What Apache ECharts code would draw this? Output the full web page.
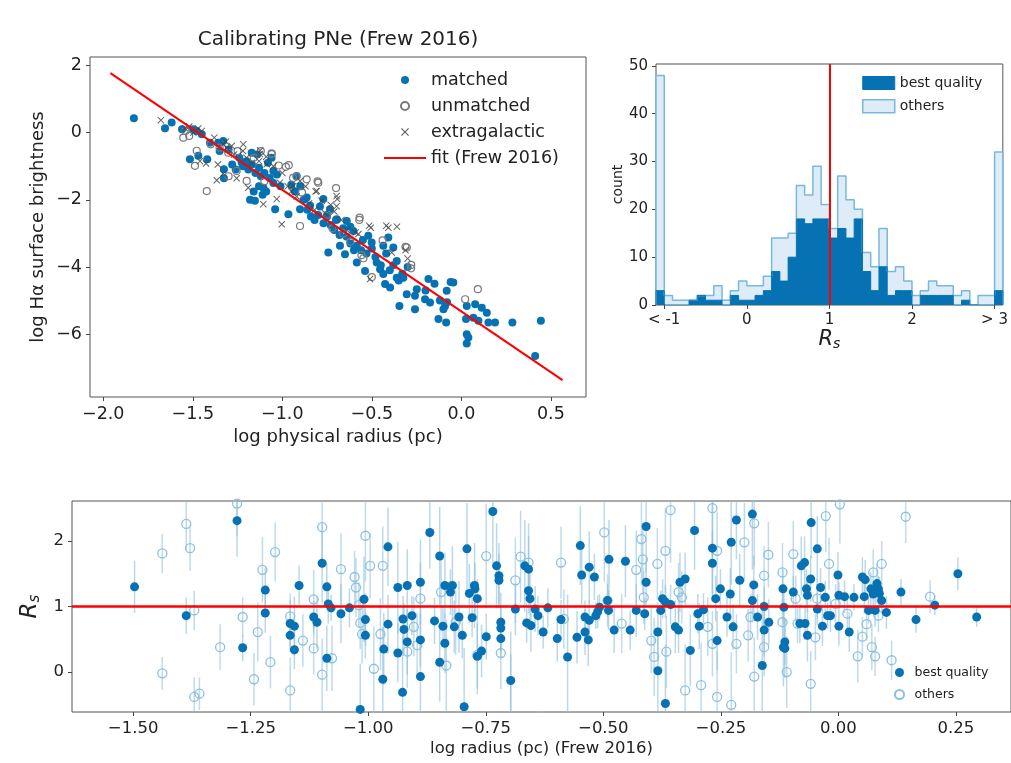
<!DOCTYPE html>
<html>
<head>
<meta charset="utf-8">
<title>Calibrating PNe</title>
<script src="https://cdn.jsdelivr.net/npm/echarts@6/dist/echarts.min.js"></script>
<style>
  html, body { margin: 0; padding: 0; background: #fff; }
  #main { width: 1011px; height: 763px; }
</style>
</head>
<body>
<div id="main"></div>
<script>
// ---- top left: surface brightness vs radius ----
var matched = [
  [-1.829,0.43],[-1.655,0.13],[-1.618,0.30],[-1.516,-0.79],[-1.469,-0.69],[-1.419,-0.79],[-1.404,-0.30],
  [-1.358,-0.30],[-1.326,-1.09],[-1.326,-1.36],[-1.227,-0.89],[-1.171,-0.60],[-1.050,-1.14],[-1.106,-1.64],
  [-1.153,-2.03],[-1.040,-2.28],[-0.966,-2.43],[-0.901,-2.28],[-0.920,-1.29],[-0.864,-1.93],[-0.845,-2.17],
  [-0.771,-1.98],[-0.734,-2.28],[-0.696,-2.58],[-0.640,-2.63],[-0.678,-3.37],[-0.650,-3.62],[-0.743,-3.57],
  [-1.24,-0.75],[-1.22,-1.0],[-1.20,-0.85],[-1.19,-1.1],[-1.17,-0.95],[-1.15,-1.2],[-1.13,-1.05],[-1.12,-1.3],
  [-1.10,-1.2],[-1.08,-0.9],[-1.07,-1.35],[-1.05,-1.5],[-1.03,-1.25],[-1.01,-1.6],[-1.13,-1.6],[-1.16,-1.75],
  [-1.11,-1.85],[-1.18,-2.0],[-1.09,-1.75],[-1.06,-0.75],[-1.14,-0.65],[-1.26,-1.1],[-1.28,-0.95],[-1.30,-0.5],
  [-1.35,-0.55],[-1.33,-0.25],[-1.48,0.05],[-1.50,0.1],[-1.45,-0.05],[-1.56,0.1],
  [-0.95,-1.55],[-0.93,-1.75],[-0.90,-1.6],[-0.88,-2.0],[-0.86,-2.3],[-0.84,-2.5],[-0.82,-2.6],[-0.80,-2.45],
  [-0.79,-2.2],[-0.77,-2.7],[-0.75,-2.5],[-0.73,-2.75],[-0.71,-2.9],[-0.70,-2.6],[-0.68,-3.05],[-0.66,-2.85],
  [-0.64,-3.1],[-0.62,-2.8],
  [-0.603,-2.93],[-0.584,-3.37],[-0.520,-3.07],[-0.501,-3.27],[-0.584,-3.87],[-0.538,-4.12],[-0.473,-3.87],
  [-0.454,-4.07],[-0.436,-4.21],[-0.426,-4.51],[-0.398,-4.61],[-0.408,-3.12],[-0.436,-3.37],[-0.380,-3.42],
  [-0.361,-3.82],[-0.361,-4.32],[-0.324,-4.32],[-0.346,-5.16],[-0.305,-4.81],[-0.259,-4.86],[-0.249,-4.66],
  [-0.184,-4.36],[-0.203,-4.96],[-0.175,-5.06],[-0.259,-5.26],[-0.128,-5.55],[-0.091,-5.16],[-0.082,-4.71],
  [-0.100,-5.26],[-0.085,-5.65],[-0.045,-4.46],[0.030,-5.16],[0.026,-5.55],[0.077,-5.11],[0.067,-5.51],
  [0.114,-5.21],[0.142,-5.36],[0.095,-5.60],[0.151,-5.65],[0.188,-5.65],[0.285,-5.65],[0.444,-5.60],
  [0.030,-6.00],[0.039,-6.10],[0.030,-6.28],[0.412,-6.65],
  [-0.56,-3.5],[-0.53,-3.6],[-0.50,-3.45],[-0.48,-3.7],[-0.55,-3.2],[-0.60,-3.5],[-0.62,-3.3],
  [-0.40,-4.1],[-0.38,-3.95],[-0.35,-4.4],[-0.33,-4.2],[-0.30,-4.0],[-0.42,-3.6],[-0.45,-3.95],
  [-0.20,-4.7],[-0.15,-4.5],[-0.12,-5.0],[-0.08,-5.05],[-0.06,-4.45]
];
var unmatched = [
  [-1.478,-0.54],[-1.488,-0.99],[-1.422,-1.74],[-1.553,-0.15],[-1.302,-0.60],[-1.255,-1.14],[-1.199,-1.44],
  [-1.059,-0.64],[-0.901,-2.78],[-0.864,-1.39],[-0.799,-1.49],[-0.570,-2.60],[-0.547,-3.74],[-0.305,-3.42],
  [-0.281,-4.04],[0.021,-4.96],[0.092,-4.66],[-1.06,-0.62],[-0.964,-0.97],[-0.921,-1.31],[-0.803,-1.45],
  [-0.568,-2.53],[-0.312,-3.40],[-0.28,-3.94],[-0.558,-3.65],[-0.44,-3.21],[-1.54,0.05],[-1.52,-0.1],
  [-1.40,-0.35],[-1.35,-0.45],[-1.25,-0.55],[-1.16,-0.75],[-1.12,-0.55],[-1.02,-0.98],[-0.98,-1.02],
  [-0.94,-1.35],[-0.89,-1.78],[-0.75,-2.45],[-0.72,-2.85],[-0.66,-3.0],[-0.62,-3.25],[-0.70,-1.65],
  [-1.30,-1.3],[-1.10,-1.45],[-0.50,-4.3]
];
var extragalactic = [
  [-1.678,0.37],[-1.544,0.13],[-1.497,0.0],[-1.426,-0.92],[-1.366,-1.42],[-1.315,-0.27],[-1.283,-0.40],
  [-1.255,-1.36],[-1.218,-0.35],[-1.190,-1.64],[-1.125,-0.64],[-1.087,-0.94],[-1.106,-2.13],[-1.031,-1.98],
  [-1.003,-2.73],[-1.013,-1.49],[-0.939,-1.59],[-0.901,-1.44],[-0.808,-1.74],[-0.780,-2.03],[-0.693,-1.98],
  [-0.506,-2.83],[-0.408,-2.83],[-0.575,-3.02],[-0.510,-4.36],[-0.389,-3.57],[-1.124,-0.53],[-0.814,-1.75],
  [-0.697,-1.89],[-0.697,-2.19],[-0.59,-2.97],[-0.515,-2.77],[-0.419,-2.77],[-0.312,-3.50],[-1.52,0.18],
  [-1.47,0.12],[-1.45,0.05],[-1.38,-0.15],[-1.33,-0.35],[-1.31,-0.45],[-1.27,-0.65],[-1.22,-0.55],
  [-1.20,-0.75],[-1.17,-0.9],[-1.13,-0.85],[-1.09,-0.72],[-1.05,-1.0],[-1.00,-1.2],[-0.97,-1.6],
  [-0.95,-1.75],[-0.92,-1.9],[-0.87,-1.6],[-0.85,-2.1],[-0.82,-2.3],[-0.76,-2.4],[-0.73,-2.15],
  [-0.71,-2.35],[-0.67,-2.6],[-0.64,-2.9],[-1.36,-0.95],[-1.46,-0.85],[-1.33,-1.22],[-0.36,-2.8],[-0.30,-3.75]
];
var fitLine = [[-1.96, 1.77], [0.565, -7.37]];
var radiusTicks = [-2, -1.5, -1, -0.5, 0, 0.5];
var brightTicks = [-6, -4, -2, 0, 2];

// ---- top right: histogram of R_s (bins of 0.1 from -1.1 to 3.1) ----
var binStart = -1.1;
var binWidth = 0.1;
var histBest = [3,0,0,0, 1,2,1,1, 0,2,1,1, 2,3,7,5, 10,18,17,18, 18,14,16,14, 18,7,3,8, 2,3,3,0, 2,2,2,2, 0,1,0,0, 0,3];
var histAll  = [48,2,1,1, 1,2,2,4, 1,3,5,4, 4,6,14,14, 15,25,23,29, 21,16,27,22, 20,11,8,16, 7,8,5,2, 3,5,4,4, 2,3,0,2, 2,32];
var histTicks = [-1, 0, 1, 2, 3];
var histTickLabels = ['< -1', '0', '1', '2', '> 3'];
var countTicks = [0, 10, 20, 30, 40, 50];

// ---- bottom: R_s vs radius, [x, y, error] ----
var rsBest = [
  [-1.497,1.30,0.40],[-1.387,0.86,0.28],[-1.279,2.31,0.55],[-1.267,0.37,0.20],[-1.219,1.25,0.35],[-1.219,0.90,0.30],
  [-1.166,0.74,0.35],[-1.166,0.56,0.25],[-1.157,0.34,0.30],[-1.157,0.70,0.45],[-1.147,1.32,0.30],[-1.116,0.84,0.25],
  [-1.109,0.76,0.40],[-1.098,1.66,0.60],[-1.088,1.30,0.35],[-1.088,0.21,0.50],[-1.085,1.04,0.30],[-1.079,0.98,0.20],
  [-1.058,0.89,0.45],[-1.040,0.98,0.30],[-1.017,-0.57,0.70],[-1.009,1.11,0.65],[-1.006,0.80,0.40],[-1.006,0.56,0.35],
  [-0.969,-0.11,0.80],[-0.967,0.35,0.55],[-0.958,1.91,0.60],[-0.958,0.73,0.45],[-0.937,1.29,0.70],[-0.937,0.29,0.45],
  [-0.927,-0.31,0.85],[-0.926,0.81,0.35],[-0.924,0.65,0.40],[-0.917,0.46,0.50],[-0.917,1.32,0.55],[-0.907,0.86,0.30],
  [-0.889,-0.07,0.60],[-0.889,1.37,0.65],[-0.889,0.49,0.40],[-0.869,2.13,0.55],[-0.859,0.78,0.35],[-0.848,1.77,0.75],
  [-0.848,0.15,0.60],[-0.841,0.70,0.30],[-0.837,0.44,0.45],[-0.837,1.32,0.50],[-0.825,1.22,0.35],[-0.821,1.32,0.60],
  [-0.817,0.69,0.40],[-0.807,0.84,0.55],[-0.800,0.56,0.35],[-0.796,-0.53,0.90],[-0.790,1.88,0.70],[-0.785,1.20,0.45],
  [-0.779,0.83,0.30],[-0.774,1.32,0.65],[-0.773,1.27,0.40],[-0.768,1.12,0.30],[-0.768,0.24,0.50],[-0.759,0.32,0.40],
  [-0.749,0.54,0.35],[-0.735,2.45,0.80],[-0.727,1.62,0.65],[-0.722,1.47,0.50],[-0.722,1.40,0.40],[-0.718,0.76,0.45],
  [-0.718,0.67,0.35],[-0.718,0.51,0.30],[-0.697,-0.13,0.75],[-0.697,-0.63,0.90],[-0.687,0.96,0.40],[-0.667,1.62,0.70],
  [-0.659,1.57,0.50],[-0.659,1.24,0.35],[-0.656,1.12,0.45],[-0.663,0.75,0.30],[-0.654,0.71,0.40],[-0.645,0.96,0.35],
  [-0.639,0.86,0.30],[-0.628,0.61,0.25],[-0.618,0.98,0.30],[-0.598,0.51,0.35],[-0.590,0.80,0.30],[-0.576,0.23,0.95],
  [-0.556,0.53,0.40],[-0.549,1.93,0.60],[-0.546,1.48,0.45],[-0.539,0.61,0.35],[-0.539,0.84,0.25],[-0.532,0.49,0.40],
  [-0.530,0.79,0.30],[-0.530,1.60,0.55],[-0.519,1.45,0.35],[-0.516,0.86,0.20],[-0.512,0.92,0.25],[-0.508,0.99,0.20],
  [-0.491,1.09,0.25],[-0.489,0.94,0.30],[-0.477,0.64,0.35],[-0.488,1.72,0.60],[-0.453,1.69,0.55],[-0.443,0.64,0.30],
  [-0.430,0.94,0.40],[-0.412,0.89,0.25],[-0.409,1.37,0.35],[-0.409,2.22,0.70],[-0.384,0.61,0.45],[-0.384,0.02,0.65],
  [-0.378,0.94,0.30],[-0.374,1.12,0.30],[-0.368,-0.48,0.90],[-0.368,1.07,0.25],[-0.357,1.03,0.30],[-0.347,0.69,0.40],
  [-0.340,0.64,0.35],[-0.337,1.37,0.45],[-0.326,1.42,0.40],[-0.315,0.33,0.55],[-0.306,2.16,0.60],[-0.299,0.89,0.30],
  [-0.296,0.70,0.35],[-0.287,0.95,0.25],[-0.268,1.89,0.70],[-0.268,1.66,0.50],[-0.261,1.12,0.35],[-0.258,0.48,0.45],
  [-0.251,1.27,0.30],[-0.237,0.84,0.30],[-0.230,1.19,0.40],[-0.228,1.98,0.65],[-0.224,0.69,0.35],[-0.217,2.32,0.60],
  [-0.210,1.40,0.40],[-0.183,2.41,0.85],[-0.183,1.09,0.30],[-0.180,1.33,0.45],[-0.172,0.84,0.35],[-0.162,0.10,0.90],
  [-0.158,0.64,0.40],[-0.158,1.00,0.30],[-0.148,0.76,0.35],[-0.116,0.99,0.25],[-0.117,0.38,0.60],[-0.114,0.36,0.45],
  [-0.118,1.27,0.30],[-0.114,0.46,0.35],[-0.096,1.22,0.25],[-0.082,0.74,0.30],[-0.079,1.62,0.45],[-0.072,1.67,0.40],
  [-0.071,0.74,0.25],[-0.068,1.27,0.30],[-0.066,1.17,0.25],[-0.066,0.56,0.40],[-0.059,1.42,0.35],[-0.058,2.28,0.55],
  [-0.045,1.88,0.50],[-0.045,0.96,0.25],[-0.038,1.29,0.30],[-0.034,0.70,0.30],[-0.028,1.14,0.25],[-0.023,0.86,0.20],
  [-0.017,0.86,0.25],[-0.001,1.48,0.35],[0.001,1.17,0.20],[0.001,0.70,0.30],[0.013,1.15,0.25],[0.023,0.61,0.30],
  [0.033,1.14,0.20],[0.051,1.45,0.30],[0.055,1.15,0.25],[0.057,1.41,0.30],[0.064,0.94,0.20],[0.069,1.27,0.25],
  [0.074,1.19,0.20],[0.078,0.94,0.25],[0.082,1.35,0.30],[0.085,1.27,0.20],[0.087,1.20,0.25],[0.092,1.09,0.20],
  [0.102,0.91,0.25],[0.133,1.22,0.20],[0.165,0.80,0.20],[0.205,1.02,0.15],[0.254,1.50,0.25],[0.294,0.84,0.15]
];
var rsOthers = [
  [-1.438,1.81,0.30],[-1.438,-0.02,0.25],[-1.387,2.26,0.40],[-1.379,1.89,0.35],[-1.370,0.94,0.30],[-1.370,-0.38,0.30],
  [-1.359,-0.33,0.25],[-1.315,0.38,0.35],[-1.279,2.57,0.50],[-1.267,0.84,0.30],[-1.243,-0.11,0.40],[-1.235,0.61,0.45],
  [-1.225,1.56,0.50],[-1.208,0.15,0.40],[-1.198,1.83,0.45],[-1.166,0.85,0.35],[-1.166,-0.28,0.50],[-1.139,0.48,0.40],
  [-1.116,1.11,0.45],[-1.116,0.36,0.40],[-1.098,2.21,0.60],[-1.098,-0.04,0.55],[-1.077,0.21,0.50],[-1.058,1.57,0.55],
  [-1.029,1.45,0.40],[-1.026,1.29,0.45],[-1.020,1.02,0.35],[-1.017,0.75,0.40],[-1.013,0.58,0.45],[-1.006,2.08,0.70],
  [-0.996,1.62,0.50],[-0.988,0.05,0.65],[-0.974,0.58,0.55],[-0.969,1.62,0.60],[-0.917,0.31,0.55],[-0.903,0.69,0.45],
  [-0.896,0.41,0.50],[-0.889,1.12,0.55],[-0.845,1.22,0.60],[-0.834,0.10,0.70],[-0.814,0.76,0.50],[-0.768,0.26,0.60],
  [-0.749,1.77,0.80],[-0.718,0.29,0.55],[-0.687,1.40,0.65],[-0.676,1.76,0.70],[-0.659,1.67,0.60],[-0.590,1.67,0.55],
  [-0.584,0.81,0.45],[-0.498,2.13,0.75],[-0.491,1.09,0.40],[-0.461,0.74,0.45],[-0.430,1.56,0.60],[-0.419,2.03,0.70],
  [-0.416,1.72,0.55],[-0.414,1.14,0.40],[-0.398,0.48,0.50],[-0.392,0.23,0.60],[-0.385,1.65,0.55],[-0.368,1.85,0.65],
  [-0.366,0.31,0.55],[-0.357,2.47,0.80],[-0.340,1.22,0.45],[-0.333,1.14,0.40],[-0.326,-0.28,0.70],[-0.292,-0.20,0.65],
  [-0.278,0.69,0.45],[-0.268,2.50,0.75],[-0.268,0.43,0.50],[-0.258,-0.38,0.70],[-0.258,1.85,0.60],[-0.228,-0.50,0.80],
  [-0.217,0.43,0.45],[-0.200,1.98,0.60],[-0.192,0.56,0.40],[-0.187,0.84,0.35],[-0.179,2.27,0.65],[-0.179,-0.07,0.60],
  [-0.158,1.47,0.45],[-0.158,0.38,0.45],[-0.149,1.79,0.50],[-0.119,1.52,0.45],[-0.119,0.76,0.35],[-0.110,0.00,0.55],
  [-0.096,1.80,0.50],[-0.091,1.12,0.35],[-0.087,0.74,0.30],[-0.059,-0.18,0.50],[-0.049,0.53,0.35],[-0.045,1.12,0.30],
  [-0.027,2.38,0.55],[-0.020,1.65,0.40],[-0.006,1.04,0.30],[0.003,2.56,0.60],[0.019,0.89,0.30],[0.041,0.24,0.40],
  [0.051,0.54,0.30],[0.060,0.73,0.25],[0.071,0.38,0.35],[0.074,1.52,0.35],[0.078,0.24,0.30],[0.085,0.86,0.25],
  [0.092,1.65,0.35],[0.113,0.18,0.30],[0.143,2.37,0.40],[0.195,1.15,0.25]
];
var logRadiusTicks = [-1.5, -1.25, -1, -0.75, -0.5, -0.25, 0, 0.25];
var rsTicks = [0, 1, 2];

var FONT = 'DejaVu Sans';
var BLUE = '#0672b3';
var LIGHT = '#ddecf6';
var LIGHT_EDGE = '#79b8dd';
var RS_MIN = -0.61, RS_MAX = 2.61;

function minus(s) {
  return String(s).replace('-', '\u2212');
}

// step outline for a histogram: [edge, count] pairs
function stepData(counts) {
  var pts = [[binStart, 0]];
  for (var i = 0; i < counts.length; i++) {
    pts.push([+(binStart + i * binWidth).toFixed(2), counts[i]]);
  }
  var end = +(binStart + counts.length * binWidth).toFixed(2);
  pts.push([end, counts[counts.length - 1]]);
  pts.push([end, 0]);
  return pts;
}

function errorBar(color) {
  return function (params, api) {
    var x = api.value(0);
    var y = api.value(1);
    var e = api.value(2);
    var lo = Math.max(y - e, RS_MIN);
    var hi = Math.min(y + e, RS_MAX);
    var p1 = api.coord([x, lo]);
    var p2 = api.coord([x, hi]);
    return {
      type: 'line',
      shape: { x1: p1[0], y1: p1[1], x2: p2[0], y2: p2[1] },
      style: { stroke: color, lineWidth: 1.5 }
    };
  };
}

function valueAxis(idx, min, max, ticks, fmt, size, extra) {
  var ax = {
    type: 'value',
    gridIndex: idx,
    min: min,
    max: max,
    splitLine: { show: false },
    axisLine: { show: false, onZero: false },
    axisTick: { show: true, length: 4, customValues: ticks, lineStyle: { color: '#444' } },
    axisLabel: {
      customValues: ticks,
      formatter: fmt,
      color: '#222',
      fontFamily: FONT,
      fontSize: size,
      margin: 8
    },
    nameLocation: 'middle',
    nameTextStyle: { color: '#222', fontFamily: FONT, fontSize: size }
  };
  for (var k in extra) ax[k] = extra[k];
  return ax;
}

var xSymbol = 'path://M0,1 L1,0 L5,4 L9,0 L10,1 L6,5 L10,9 L9,10 L5,6 L1,10 L0,9 L4,5 Z';
var lineIcon = 'path://M0,0 L40,0 L40,2 L0,2 Z';

var chart = echarts.init(document.getElementById('main'));

var option = {
  backgroundColor: '#fff',
  animation: false,
  title: {
    text: 'Calibrating PNe (Frew 2016)',
    left: 338,
    top: 30,
    padding: 0,
    textAlign: 'center',
    textStyle: { fontFamily: FONT, fontSize: 20, fontWeight: 'normal', color: '#222' }
  },
  grid: [
    { left: 90, top: 57, width: 496, height: 340, show: true, borderColor: '#555', borderWidth: 1 },
    { left: 656, top: 64, width: 347, height: 241, show: true, borderColor: '#555', borderWidth: 1 },
    { left: 72, top: 501, width: 941, height: 211, show: true, borderColor: '#555', borderWidth: 1 }
  ],
  legend: [
    {
      orient: 'vertical', left: 384, top: 71, padding: 0,
      itemWidth: 42, itemHeight: 8, itemGap: 8,
      textStyle: { fontFamily: FONT, fontSize: 17.5, color: '#222' },
      data: [
        'matched', 'unmatched', 'extragalactic',
        { name: 'fit (Frew 2016)', icon: lineIcon, itemStyle: { color: '#ff0000' } }
      ]
    },
    {
      orient: 'vertical', left: 862, top: 76, padding: 0,
      itemWidth: 32, itemHeight: 13, itemGap: 9,
      textStyle: { fontFamily: FONT, fontSize: 14, color: '#222' },
      data: [
        { name: 'best quality', icon: 'rect', itemStyle: { color: BLUE, borderColor: BLUE, borderWidth: 1 } },
        { name: 'others', icon: 'rect', itemStyle: { color: LIGHT, borderColor: LIGHT_EDGE, borderWidth: 1.5 } }
      ]
    },
    {
      orient: 'vertical', left: 894, top: 666, padding: 0,
      itemWidth: 20, itemHeight: 9, itemGap: 9,
      textStyle: { fontFamily: FONT, fontSize: 12.5, color: '#222' },
      data: ['best', 'other']
    }
  ],
  xAxis: [
    valueAxis(0, -2.074, 0.696, radiusTicks, function (v) { return minus(v.toFixed(1)); }, 17.5,
      { name: 'log physical radius (pc)', nameGap: 31, nameTextStyle: { color: '#222', fontFamily: FONT, fontSize: 18 } }),
    valueAxis(1, -1.1, 3.1, histTicks, function (v) { return histTickLabels[histTicks.indexOf(v)]; }, 15,
      {
        name: '{r|R}{s|s}', nameGap: 22,
        nameTextStyle: {
          color: '#222',
          rich: {
            r: { fontFamily: FONT, fontStyle: 'italic', fontSize: 21, lineHeight: 24 },
            s: { fontFamily: FONT, fontStyle: 'italic', fontSize: 14, verticalAlign: 'bottom', lineHeight: 24 }
          }
        }
      }),
    valueAxis(2, -1.630, 0.367, logRadiusTicks, function (v) { return minus(v.toFixed(2)); }, 16.5,
      { name: 'log radius (pc) (Frew 2016)', nameGap: 28 })
  ],
  yAxis: [
    valueAxis(0, -7.87, 2.25, brightTicks, function (v) { return minus(v); }, 17.5,
      { name: 'log H\u03b1 surface brightness', nameGap: 43, nameTextStyle: { color: '#222', fontFamily: FONT, fontSize: 18 } }),
    valueAxis(1, 0, 50.4, countTicks, function (v) { return v; }, 15,
      { name: 'count', nameGap: 30, nameTextStyle: { color: '#222', fontFamily: FONT, fontSize: 14 } }),
    valueAxis(2, RS_MIN, RS_MAX, rsTicks, function (v) { return v; }, 16.5,
      {
        name: '{r|R}{s|s}', nameGap: 28,
        nameTextStyle: {
          color: '#222',
          rich: {
            r: { fontFamily: FONT, fontStyle: 'italic', fontSize: 23, lineHeight: 26 },
            s: { fontFamily: FONT, fontStyle: 'italic', fontSize: 15, verticalAlign: 'bottom', lineHeight: 26 }
          }
        }
      })
  ],
  series: [
    // top left
    {
      name: 'matched', type: 'scatter', xAxisIndex: 0, yAxisIndex: 0,
      symbol: 'circle', symbolSize: 8,
      itemStyle: { color: BLUE, opacity: 1 },
      data: matched
    },
    {
      name: 'unmatched', type: 'scatter', xAxisIndex: 0, yAxisIndex: 0,
      symbol: 'circle', symbolSize: 7,
      itemStyle: { color: 'rgba(0,0,0,0)', borderColor: '#7a7a7a', borderWidth: 1.2, opacity: 1 },
      data: unmatched
    },
    {
      name: 'extragalactic', type: 'scatter', xAxisIndex: 0, yAxisIndex: 0,
      symbol: xSymbol, symbolSize: 7,
      itemStyle: { color: '#444', opacity: 0.85 },
      data: extragalactic
    },
    {
      name: 'fit (Frew 2016)', type: 'line', xAxisIndex: 0, yAxisIndex: 0,
      symbol: 'none', showSymbol: false,
      lineStyle: { color: '#ff0000', width: 2 },
      itemStyle: { color: '#ff0000' },
      data: fitLine
    },
    // top right histogram
    {
      name: 'others', type: 'line', xAxisIndex: 1, yAxisIndex: 1,
      step: 'end', symbol: 'none', showSymbol: false,
      lineStyle: { color: LIGHT_EDGE, width: 1.5 },
      areaStyle: { color: LIGHT, opacity: 1 },
      itemStyle: { color: LIGHT },
      data: stepData(histAll)
    },
    {
      name: 'best quality', type: 'line', xAxisIndex: 1, yAxisIndex: 1,
      step: 'end', symbol: 'none', showSymbol: false,
      lineStyle: { color: BLUE, width: 1 },
      areaStyle: { color: BLUE, opacity: 1 },
      itemStyle: { color: BLUE },
      data: stepData(histBest),
      markLine: {
        silent: true, symbol: 'none', label: { show: false },
        lineStyle: { color: '#ff0000', width: 2, type: 'solid' },
        data: [{ xAxis: 1 }]
      }
    },
    // bottom panel
    {
      type: 'custom', xAxisIndex: 2, yAxisIndex: 2, silent: true,
      renderItem: errorBar('rgba(140,190,220,0.55)'),
      encode: { x: 0, y: 1 },
      data: rsOthers
    },
    {
      type: 'custom', xAxisIndex: 2, yAxisIndex: 2, silent: true,
      renderItem: errorBar('rgba(140,190,220,0.6)'),
      encode: { x: 0, y: 1 },
      data: rsBest
    },
    {
      name: 'other', type: 'scatter', xAxisIndex: 2, yAxisIndex: 2,
      symbol: 'circle', symbolSize: 9,
      itemStyle: { color: 'rgba(0,0,0,0)', borderColor: '#8cc0df', borderWidth: 1.3, opacity: 1 },
      data: rsOthers
    },
    {
      name: 'best', type: 'scatter', xAxisIndex: 2, yAxisIndex: 2,
      symbol: 'circle', symbolSize: 9,
      itemStyle: { color: BLUE, opacity: 1 },
      data: rsBest,
      markLine: {
        silent: true, symbol: 'none', label: { show: false },
        lineStyle: { color: '#ff0000', width: 2.5, type: 'solid' },
        data: [{ yAxis: 1 }]
      }
    }
  ]
};

// legend labels in bottom panel use the same words as the histogram
option.legend[2].formatter = function (name) {
  return name === 'best' ? 'best quality' : 'others';
};

chart.setOption(option);
window.addEventListener('resize', function () {
  chart.resize();
});
</script>
</body>
</html>
